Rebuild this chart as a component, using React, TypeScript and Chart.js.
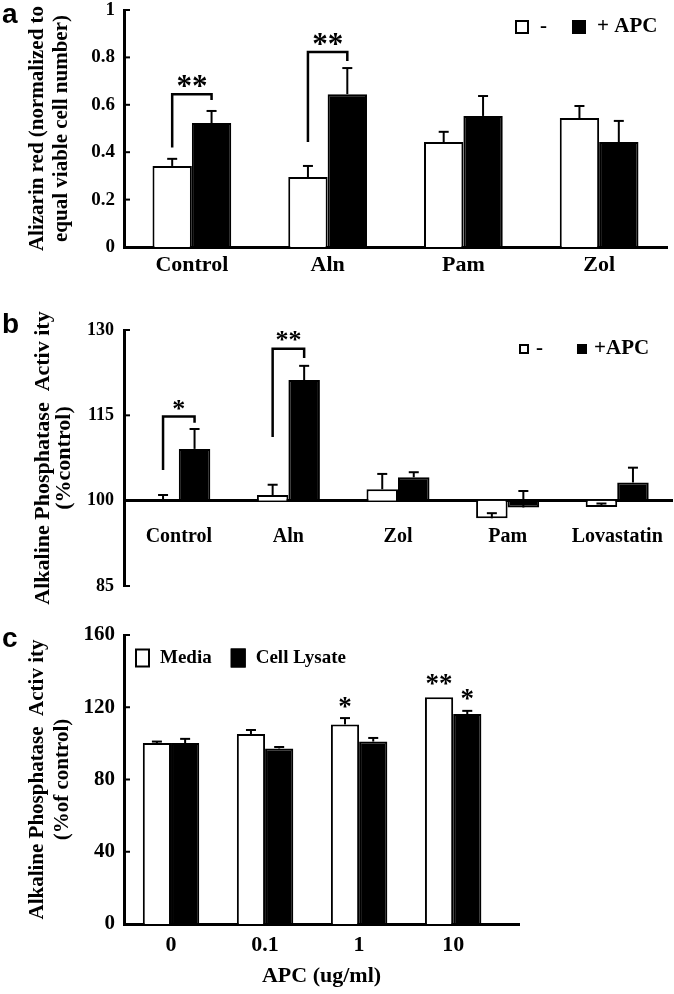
import React, { useEffect, useRef } from 'react';
import { Chart, registerables } from 'chart.js';

Chart.register(...registerables);

const SERIF = "'Liberation Serif', 'Times New Roman', serif";
const SANS = "'Liberation Sans', Arial, sans-serif";

// ---------- Panel a ----------
const aCategories = ['Control', 'Aln', 'Pam', 'Zol'];
const aMinus = [0.342, 0.295, 0.443, 0.544];
const aMinusErr = [0.372, 0.342, 0.486, 0.595];
const aPlus = [0.523, 0.645, 0.553, 0.443];
const aPlusErr = [0.574, 0.755, 0.637, 0.532];
const aTicks = [0, 0.2, 0.4, 0.6, 0.8, 1];
const aBrackets = [
  { index: 0, left: 0.42, top: 0.645, right: 0.62 },
  { index: 1, left: 0.443, top: 0.823, right: 0.785 },
];
const aStars = [
  { index: 0, value: 0.7, text: '**' },
  { index: 1, value: 0.877, text: '**' },
];

// ---------- Panel b ----------
const bCategories = ['Control', 'Aln', 'Zol', 'Pam', 'Lovastatin'];
const bMinus = [100, 101, 102, 96.9, 98.9];
const bMinusErr = [101, 102.8, 104.7, 97.8, 99.5];
const bPlus = [109.1, 121.2, 104.1, 98.8, 103.2];
const bPlusErr = [112.6, 123.7, 105, 101.7, 105.8];
const bBrackets = [
  { index: 0, left: 105.4, top: 114.8, right: 113.7 },
  { index: 1, left: 111.2, top: 126.7, right: 125.1 },
];
const bStars = [
  { index: 0, value: 116.8, text: '*' },
  { index: 1, value: 129, text: '**' },
];

// ---------- Panel c ----------
const cCategories = ['0', '0.1', '1', '10'];
const cMedia = [100.2, 105.2, 110.5, 125.5];
const cMediaErr: (number | null)[] = [101, 107.4, 114, null];
const cLysate = [100.2, 97.2, 101, 116.2];
const cLysateErr: (number | null)[] = [102.5, 98, 103, 118];
const cStars = [
  { index: 2, dataset: 0, value: 123, text: '*' },
  { index: 3, dataset: 0, value: 135.5, text: '**' },
  { index: 3, dataset: 1, value: 127, text: '*' },
];

const annotatePlugin = {
  id: 'annotate',
  afterDatasetsDraw(chart: any, _args: any, opts: any) {
    const { ctx, chartArea } = chart;
    const ys = chart.scales.y;
    ctx.save();
    ctx.strokeStyle = '#000';
    ctx.fillStyle = '#000';
    // inward y ticks
    ctx.lineWidth = 2;
    ys.ticks.forEach((t: any) => {
      const py = ys.getPixelForValue(t.value);
      ctx.beginPath();
      ctx.moveTo(chartArea.left, py);
      ctx.lineTo(chartArea.left + 6, py);
      ctx.stroke();
    });
    // error bars
    chart.data.datasets.forEach((ds: any, di: number) => {
      const meta = chart.getDatasetMeta(di);
      (ds.errTo || []).forEach((e: number | null, i: number) => {
        if (e == null) return;
        const el: any = meta.data[i];
        if (!el) return;
        const x = el.x;
        const y0 = el.y;
        const y1 = ys.getPixelForValue(e);
        ctx.lineWidth = 2;
        ctx.beginPath();
        ctx.moveTo(x, y0);
        ctx.lineTo(x, y1);
        ctx.stroke();
        ctx.beginPath();
        ctx.moveTo(x - 5, y1);
        ctx.lineTo(x + 5, y1);
        ctx.stroke();
      });
    });
    const m0 = chart.getDatasetMeta(0);
    const m1 = chart.getDatasetMeta(1);
    // brackets
    (opts.brackets || []).forEach((b: any) => {
      const xl = m0.data[b.index].x;
      const xr = m1.data[b.index].x;
      ctx.lineWidth = 2.5;
      ctx.lineJoin = 'miter';
      ctx.beginPath();
      ctx.moveTo(xl, ys.getPixelForValue(b.left));
      ctx.lineTo(xl, ys.getPixelForValue(b.top));
      ctx.lineTo(xr, ys.getPixelForValue(b.top));
      ctx.lineTo(xr, ys.getPixelForValue(b.right));
      ctx.stroke();
    });
    // stars
    const size = opts.starSize || 26;
    ctx.font = `bold ${size}px ${SERIF}`;
    ctx.textAlign = 'center';
    ctx.textBaseline = 'alphabetic';
    (opts.stars || []).forEach((s: any) => {
      let x;
      if (s.dataset === undefined) {
        x = (m0.data[s.index].x + m1.data[s.index].x) / 2;
      } else {
        x = chart.getDatasetMeta(s.dataset).data[s.index].x;
      }
      const py = ys.getPixelForValue(s.value);
      ctx.fillText(s.text, x, py + 0.47 * size);
    });
    ctx.restore();
  },
  afterDraw(chart: any, _args: any, opts: any) {
    const lg = opts.legend;
    if (!lg) return;
    const { ctx } = chart;
    ctx.save();
    ctx.font = `bold ${lg.size}px ${SERIF}`;
    ctx.textBaseline = 'middle';
    ctx.textAlign = 'left';
    let cx = lg.x;
    chart.data.datasets.forEach((ds: any) => {
      const top = lg.y - lg.boxH / 2;
      ctx.fillStyle = ds.backgroundColor;
      ctx.fillRect(cx, top, lg.boxW, lg.boxH);
      ctx.strokeStyle = '#000';
      ctx.lineWidth = 2;
      ctx.strokeRect(cx + 1, top + 1, lg.boxW - 2, lg.boxH - 2);
      cx += lg.boxW + lg.gap;
      ctx.fillStyle = '#000';
      ctx.fillText(ds.label, cx, lg.y);
      cx += ctx.measureText(ds.label).width + lg.itemGap;
    });
    ctx.restore();
  },
};

function yScale(min: number, max: number, step: number, tickSize: number, tickPad: number,
  title: string[], titleSize: number, titleLH: number, titlePad: number) {
  return {
    type: 'linear',
    position: 'left',
    min,
    max,
    grid: { display: false, drawTicks: false },
    border: { display: true, color: '#000', width: 3 },
    ticks: {
      stepSize: step,
      color: '#000',
      padding: tickPad,
      font: { family: SERIF, size: tickSize, weight: 'bold' },
      callback: (v: any) => String(Math.round(Number(v) * 1000) / 1000),
    },
    title: {
      display: true,
      text: title,
      color: '#000',
      font: { family: SERIF, size: titleSize, weight: 'bold', lineHeight: titleLH },
      padding: { top: titlePad, bottom: 0 },
    },
    afterFit: (s: any) => {
      s.width = 124;
      s.paddingTop = 0;
      s.paddingBottom = 0;
    },
  };
}

function makeA(): any {
  return {
    type: 'bar',
    data: {
      labels: aCategories,
      datasets: [
        { label: '-', data: aMinus, backgroundColor: '#fff', borderColor: '#000', borderWidth: 2, errTo: aMinusErr, categoryPercentage: 0.58, barPercentage: 1 },
        { label: '+ APC', data: aPlus, backgroundColor: '#000', borderColor: '#000', borderWidth: 2, errTo: aPlusErr, categoryPercentage: 0.58, barPercentage: 1 },
      ],
    },
    options: {
      responsive: false,
      animation: false,
      layout: { padding: { top: 10, right: 7, left: 0, bottom: 0 } },
      plugins: {
        legend: { display: false },
        tooltip: { enabled: false },
        annotate: {
          brackets: aBrackets,
          stars: aStars,
          starSize: 31,
          legend: { x: 515, y: 27, boxW: 14, boxH: 14, gap: 11, itemGap: 25, size: 21 },
        },
      },
      scales: {
        x: {
          type: 'category',
          grid: { display: false, drawTicks: false },
          border: { display: true, color: '#000', width: 3 },
          ticks: { color: '#000', padding: 5, autoSkip: false, maxRotation: 0, font: { family: SERIF, size: 22, weight: 'bold' } },
          afterFit: (s: any) => { s.height = 53; s.paddingLeft = 0; s.paddingRight = 0; },
        },
        y: {
          ...yScale(0, 1, 0.2, 19, 9, ['Alizarin red (normalized to', 'equal viable cell number)'], 21, 1.143, 26),
          afterBuildTicks: (s: any) => { s.ticks = aTicks.map((v) => ({ value: v })); },
        },
      },
    },
    plugins: [annotatePlugin],
  };
}

function makeB(): any {
  return {
    type: 'bar',
    data: {
      labels: bCategories,
      datasets: [
        { label: '-', data: bMinus, base: 100, backgroundColor: '#fff', borderColor: '#000', borderWidth: 2, errTo: bMinusErr, categoryPercentage: 0.575, barPercentage: 1 },
        { label: '+APC', data: bPlus, base: 100, backgroundColor: '#000', borderColor: '#000', borderWidth: 2, errTo: bPlusErr, categoryPercentage: 0.575, barPercentage: 1 },
      ],
    },
    options: {
      responsive: false,
      animation: false,
      layout: { padding: { top: 30, right: 2, left: 0, bottom: 34 } },
      plugins: {
        legend: { display: false },
        tooltip: { enabled: false },
        annotate: {
          brackets: bBrackets,
          stars: bStars,
          starSize: 26,
          legend: { x: 519, y: 49, boxW: 10, boxH: 10, gap: 7, itemGap: 34, size: 21 },
        },
      },
      scales: {
        x: {
          type: 'category',
          position: { y: 100 },
          grid: { display: false, drawTicks: false },
          border: { display: true, color: '#000', width: 3 },
          ticks: { color: '#000', padding: 24, autoSkip: false, maxRotation: 0, font: { family: SERIF, size: 20, weight: 'bold' } },
          afterFit: (s: any) => { s.paddingLeft = 0; s.paddingRight = 0; },
        },
        y: yScale(85, 130, 15, 18, 10, ['Alkaline Phosphatase  Activ ity', '(%control)'], 22, 0.955, 32.5),
      },
    },
    plugins: [annotatePlugin],
  };
}

function makeC(): any {
  return {
    type: 'bar',
    data: {
      datasets: [
        { label: 'Media', data: cMedia.map((v, i) => ({ x: i, y: v })), backgroundColor: '#fff', borderColor: '#000', borderWidth: 2, errTo: cMediaErr, categoryPercentage: 0.6, barPercentage: 1 },
        { label: 'Cell Lysate', data: cLysate.map((v, i) => ({ x: i, y: v })), backgroundColor: '#000', borderColor: '#000', borderWidth: 2, errTo: cLysateErr, categoryPercentage: 0.6, barPercentage: 1 },
      ],
    },
    options: {
      responsive: false,
      animation: false,
      layout: { padding: { top: 15, right: 155, left: 0, bottom: 0 } },
      plugins: {
        legend: { display: false },
        tooltip: { enabled: false },
        annotate: {
          stars: cStars,
          starSize: 27,
          legend: { x: 135, y: 38, boxW: 15, boxH: 19, gap: 10, itemGap: 19, size: 19 },
        },
      },
      scales: {
        x: {
          type: 'linear',
          min: -0.5,
          max: 3.7,
          offset: false,
          grid: { display: false, drawTicks: false, offset: false },
          border: { display: true, color: '#000', width: 3 },
          afterBuildTicks: (s: any) => { s.ticks = cCategories.map((_, i) => ({ value: i })); },
          ticks: {
            color: '#000',
            padding: 8,
            autoSkip: false,
            maxRotation: 0,
            font: { family: SERIF, size: 22, weight: 'bold' },
            callback: (v: any) => cCategories[v] ?? '',
          },
          title: {
            display: true,
            text: 'APC (ug/ml)',
            color: '#000',
            font: { family: SERIF, size: 22, weight: 'bold' },
            padding: { top: 0, bottom: 4 },
          },
          afterFit: (s: any) => { s.height = 70; s.paddingLeft = 0; s.paddingRight = 0; },
        },
        y: yScale(0, 160, 40, 21, 9, ['Alkaline Phosphatase  Activ ity', '(%of control)'], 21, 1.19, 25.5),
      },
    },
    plugins: [annotatePlugin],
  };
}

function Panel({ top, height, make }: { top: number; height: number; make: () => any }) {
  const ref = useRef<HTMLCanvasElement>(null);
  useEffect(() => {
    const chart = new Chart(ref.current as HTMLCanvasElement, make());
    return () => chart.destroy();
  }, []);
  return (
    <canvas
      ref={ref}
      width={674}
      height={height}
      style={{ position: 'absolute', left: 0, top, width: 674, height }}
    />
  );
}

const letterStyle = (top: number): React.CSSProperties => ({
  position: 'absolute',
  left: 2,
  top,
  fontFamily: SANS,
  fontWeight: 'bold',
  fontSize: 28,
  lineHeight: '28px',
  color: '#000',
});

export default function App() {
  return (
    <div style={{ position: 'absolute', left: 0, top: 0, width: 674, height: 994, background: '#fff', overflow: 'hidden' }}>
      <Panel top={0} height={300} make={makeA} />
      <Panel top={300} height={320} make={makeB} />
      <Panel top={620} height={374} make={makeC} />
      <div style={letterStyle(0)}>a</div>
      <div style={letterStyle(310)}>b</div>
      <div style={letterStyle(624)}>c</div>
    </div>
  );
}
